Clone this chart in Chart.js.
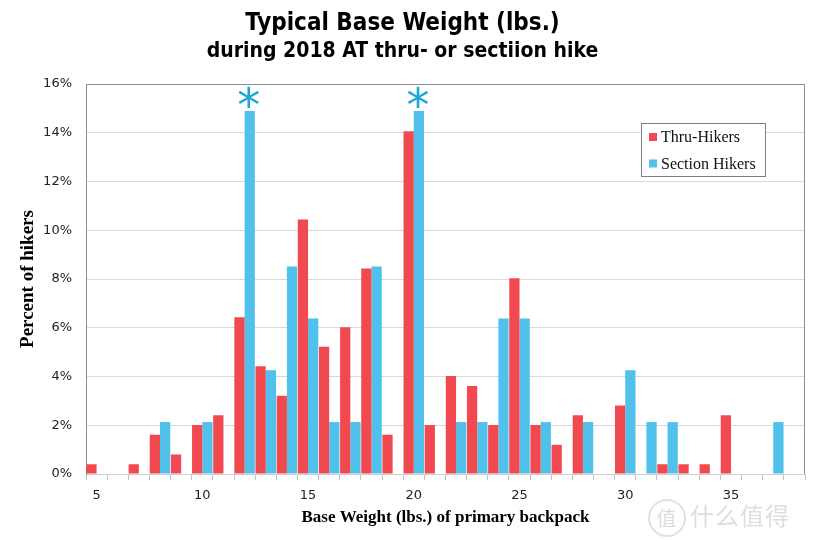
<!DOCTYPE html>
<html>
<head>
<meta charset="utf-8">
<script src="https://cdn.jsdelivr.net/npm/chart.js@4.4.1/dist/chart.umd.min.js"></script>
<style>
  html, body { margin: 0; padding: 0; background: #fff; }
  #wrap { position: relative; width: 814px; height: 541px; }
  #mark {
    position: absolute; left: 648px; top: 497px;
    font-family: "Noto Sans CJK SC", sans-serif; font-size: 24px;
    color: #dedede; letter-spacing: 1px;
  }
  #mark span {
    display: inline-block; width: 34px; height: 34px; line-height: 34px;
    border: 2px solid #e2e2e2; border-radius: 50%; text-align: center;
    font-size: 20px; margin-right: 4px; vertical-align: middle;
  }
</style>
</head>
<body>
<div id="wrap">
  <canvas id="weightChart" width="814" height="541"></canvas>
  <div id="mark"><span>值</span>什么值得买</div>
</div>
<script>
// base weight (lbs.) categories
const weights = [5, 6, 7, 8, 9, 10, 11, 12, 13, 14, 15, 16, 17, 18, 19, 20, 21,
                 22, 23, 24, 25, 26, 27, 28, 29, 30, 31, 32, 33, 34, 35, 36, 37, 38];

// percent of hikers
const thruHikers = [0.4, 0, 0.4, 1.61, 0.8, 2.01, 2.41, 6.43, 4.42, 3.21, 10.44, 5.22, 6.02, 8.43, 1.61, 14.06, 2.01,
                    4.02, 3.61, 2.01, 8.03, 2.01, 1.2, 2.41, 0, 2.81, 0, 0.4, 0.4, 0.4, 2.41, 0, 0, 0];
const sectionHikers = [0, 0, 0, 2.13, 0, 2.13, 0, 14.89, 4.26, 8.51, 6.38, 2.13, 2.13, 8.51, 0, 14.89, 0,
                       2.13, 2.13, 6.38, 6.38, 2.13, 0, 2.13, 0, 4.26, 2.13, 2.13, 0, 0, 0, 0, 2.13, 0];

const yTicks = [0, 2, 4, 6, 8, 10, 12, 14, 16];
const labeledWeights = [5, 10, 15, 20, 25, 30, 35];
const starredWeights = [12, 20];

const RED = '#f0494f';
const BLUE = '#50c1ea';
const serif = "'Liberation Serif', 'DejaVu Serif', serif";
const narrow = "'Liberation Sans Narrow', 'DejaVu Sans Condensed', 'DejaVu Sans', sans-serif";

// asterisks over the highlighted section bars
const starPlugin = {
    id: 'stars',
    afterDatasetsDraw(chart) {
        const meta = chart.getDatasetMeta(1);
        const ctx = chart.ctx;
        ctx.save();
        ctx.fillStyle = '#1ea6d9';
        ctx.font = "46px 'DejaVu Sans', sans-serif";
        ctx.textAlign = 'center';
        ctx.textBaseline = 'middle';
        starredWeights.forEach(w => {
            const bar = meta.data[weights.indexOf(w)];
            if (bar) ctx.fillText('*', bar.x - 1, bar.y - 2);
        });
        ctx.restore();
    }
};

// frame round the plot and the boxed legend
const framePlugin = {
    id: 'frame',
    afterDraw(chart) {
        const { ctx, chartArea: a } = chart;
        ctx.save();
        ctx.strokeStyle = '#8c8c8c';
        ctx.lineWidth = 1;
        ctx.beginPath();
        ctx.moveTo(a.left + 0.5, a.top + 0.5);
        ctx.lineTo(a.right - 0.5, a.top + 0.5);
        ctx.lineTo(a.right - 0.5, a.bottom);
        ctx.stroke();

        const lx = a.right - 164, ly = a.top + 39;
        ctx.fillStyle = '#fff';
        ctx.fillRect(lx, ly, 125, 54);
        ctx.strokeStyle = '#7f7f7f';
        ctx.strokeRect(lx + 0.5, ly + 0.5, 124, 53);

        const items = [['Thru-Hikers', RED], ['Section Hikers', BLUE]];
        ctx.font = '16px ' + serif;
        ctx.textBaseline = 'middle';
        items.forEach(([text, color], i) => {
            const cy = ly + 14 + i * 26.5;
            ctx.fillStyle = color;
            ctx.fillRect(lx + 8, cy - 4, 8, 8);
            ctx.fillStyle = '#111';
            ctx.fillText(text, lx + 20, cy + 1);
        });
        ctx.restore();
    }
};

new Chart(document.getElementById('weightChart'), {
    type: 'bar',
    data: {
        labels: weights,
        datasets: [
            { label: 'Thru-Hikers', data: thruHikers, backgroundColor: RED },
            { label: 'Section Hikers', data: sectionHikers, backgroundColor: BLUE }
        ]
    },
    options: {
        responsive: false,
        animation: false,
        layout: { padding: { top: 0, right: 9, bottom: 0, left: 0 } },
        datasets: { bar: { categoryPercentage: 0.97, barPercentage: 1.0 } },
        plugins: {
            legend: { display: false },
            tooltip: { enabled: false },
            title: {
                display: true,
                text: 'Typical Base Weight (lbs.)',
                color: '#000',
                font: { family: narrow, size: 24, weight: 'bold' },
                padding: { top: 9, bottom: 0 }
            },
            subtitle: {
                display: true,
                text: 'during 2018 AT thru- or sectiion hike',
                color: '#000',
                font: { family: narrow, size: 21, weight: 'bold' },
                padding: { top: 1, bottom: 20 }
            }
        },
        scales: {
            x: {
                grid: { display: true, drawOnChartArea: false, drawTicks: true, tickLength: 6, color: '#c4c4c4', offset: true },
                border: { color: '#d0d0d0' },
                ticks: {
                    autoSkip: false, maxRotation: 0, padding: 8, color: '#222',
                    font: { family: "'DejaVu Sans', sans-serif", size: 13 },
                    callback: (v, i) => labeledWeights.includes(weights[i]) ? weights[i] : ''
                },
                title: {
                    display: true,
                    text: 'Base Weight (lbs.) of primary backpack',
                    color: '#000',
                    font: { family: serif, size: 17, weight: 'bold' },
                    padding: { top: 0, bottom: 13 }
                },
                afterFit: s => { s.height = 67; }
            },
            y: {
                min: 0, max: 16,
                afterBuildTicks: s => { s.ticks = yTicks.map(v => ({ value: v })); },
                grid: { color: '#d9d9d9', drawTicks: false },
                border: { color: '#8c8c8c' },
                ticks: {
                    padding: 14, color: '#222',
                    font: { family: "'DejaVu Sans', sans-serif", size: 13 },
                    callback: v => v + '%'
                },
                title: {
                    display: true,
                    text: 'Percent of hikers',
                    color: '#000',
                    font: { family: serif, size: 19, weight: 'bold' },
                    padding: { top: 17, bottom: 0 }
                },
                afterFit: s => { s.width = 86; }
            }
        }
    },
    plugins: [starPlugin, framePlugin]
});
</script>
</body>
</html>
